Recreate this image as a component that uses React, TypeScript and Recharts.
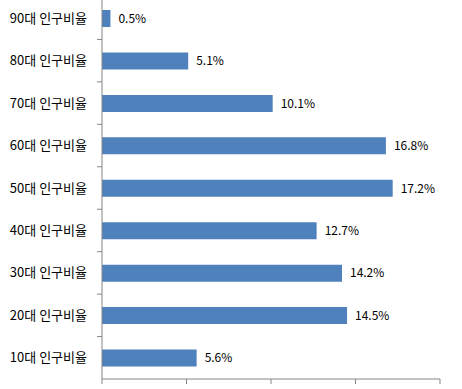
import React from 'react';
import { BarChart, Bar, XAxis, YAxis, LabelList } from 'recharts';

const categories = ['90대 인구비율', '80대 인구비율', '70대 인구비율', '60대 인구비율', '50대 인구비율', '40대 인구비율', '30대 인구비율', '20대 인구비율', '10대 인구비율'];
const values = [0.5, 5.1, 10.1, 16.8, 17.2, 12.7, 14.2, 14.5, 5.6];
const xTicks = [0, 5, 10, 15, 20];

const data = categories.map((name, i) => ({ name, value: values[i] }));

const FONT = '"Noto Sans CJK KR", "Noto Sans", sans-serif';
const AXIS = '#868686';

const CatTick = (props: any) => {
  const { x, y, payload } = props;
  const half = payload && typeof payload.offset === 'number' ? payload.offset : 21.2;
  return (
    <g>
      <text x={x} y={y} dy={4.5} textAnchor="end" fontSize={13} fill="#000" fontFamily={FONT}>
        {payload.value}
      </text>
      <line x1={x + 10} x2={x + 15} y1={y - half} y2={y - half} stroke={AXIS} />
    </g>
  );
};

export default function App() {
  return (
    <div style={{ position: 'absolute', left: 0, top: -3 }}>
      <BarChart
        width={462}
        height={395}
        data={data}
        layout="vertical"
        margin={{ top: 0, right: 22, bottom: 0, left: 0 }}
      >
        <XAxis
          type="number"
          domain={[0, 20]}
          ticks={xTicks}
          height={13}
          tickSize={5}
          tick={() => <g />}
          axisLine={{ stroke: AXIS }}
          tickLine={{ stroke: AXIS }}
        />
        <YAxis
          type="category"
          dataKey="name"
          width={102}
          tickSize={5}
          tickMargin={10}
          tickLine={false}
          axisLine={{ stroke: AXIS }}
          tick={<CatTick />}
          interval={0}
        />
        <Bar dataKey="value" fill="#4F81BD" barSize={17} isAnimationActive={false}>
          <LabelList
            dataKey="value"
            position="right"
            offset={8}
            formatter={(v: any) => `${v}%`}
            fill="#000"
            fontSize={12}
            fontFamily={FONT}
          />
        </Bar>
      </BarChart>
    </div>
  );
}
